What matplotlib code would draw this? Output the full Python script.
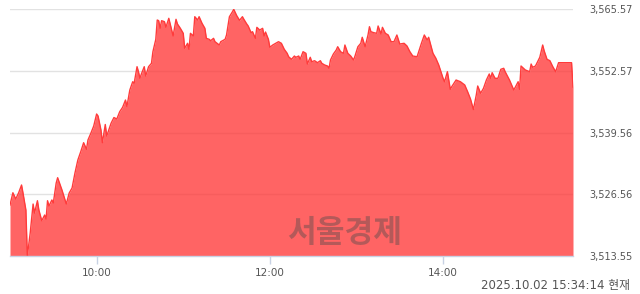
import matplotlib
matplotlib.use("Agg")
import matplotlib.pyplot as plt

# minutes after 09:00 and index level
minutes = [0, 2, 4, 6, 8, 9, 11, 12, 14, 16, 17, 19, 20, 22, 24, 25, 26, 27, 29, 30,
           32, 33, 35, 36, 39, 41, 43, 45, 47, 49, 51, 53, 54, 56, 58, 60, 61, 63, 64, 66,
           67, 70, 72, 74, 76, 78, 80, 81, 83, 85, 86, 88, 89, 90, 91, 93, 94, 96, 98, 99,
           101, 102, 103, 104, 105, 107, 108, 110, 112, 113, 115, 116, 118, 120, 121, 123, 124, 125, 127, 128,
           130, 131, 133, 135, 136, 138, 139, 141, 142, 145, 146, 149, 150, 152, 154, 155, 157, 159, 161, 162,
           164, 165, 167, 168, 170, 171, 173, 175, 176, 177, 179, 180, 182, 184, 186, 188, 190, 192, 193, 195,
           197, 198, 200, 201, 203, 205, 206, 208, 209, 211, 213, 215, 216, 218, 220, 221, 222, 224, 226, 227,
           229, 231, 232, 234, 236, 238, 239, 241, 243, 244, 246, 248, 249, 250, 252, 254, 255, 257, 258, 260,
           262, 264, 266, 268, 270, 273, 275, 277, 279, 282, 285, 287, 289, 290, 293, 295, 297, 300, 301, 303,
           305, 306, 309, 312, 315, 317, 319, 321, 323, 324, 326, 328, 330, 332, 333, 334, 336, 338, 340, 342,
           343, 346, 349, 352, 353, 354, 357, 360, 361, 362, 364, 367, 369, 370, 372, 374, 376, 378, 380, 389,
           390]
values = [3524.30, 3526.89, 3525.57, 3526.89, 3528.52, 3526.83, 3523.25, 3513.55, 3518.40, 3524.51,
          3522.61, 3525.21, 3523.25, 3520.99, 3522.19, 3521.35, 3525.21, 3524.09, 3525.36, 3524.72,
          3528.94, 3530.06, 3528.31, 3527.46, 3524.51, 3526.83, 3527.89, 3531.05, 3533.79, 3535.54,
          3537.44, 3536.05, 3538.01, 3539.42, 3540.96, 3543.49, 3543.07, 3540.12, 3537.44, 3541.28,
          3538.85, 3541.53, 3542.75, 3542.44, 3543.98, 3544.90, 3546.44, 3545.07, 3548.55, 3550.30,
          3549.96, 3553.47, 3552.41, 3551.02, 3551.93, 3553.47, 3551.50, 3553.47, 3554.18, 3556.63,
          3559.24, 3563.31, 3563.17, 3561.56, 3563.17, 3562.96, 3561.77, 3563.67, 3561.20, 3559.94,
          3563.46, 3562.47, 3561.56, 3560.51, 3557.35, 3558.40, 3557.13, 3560.51, 3559.94, 3564.01,
          3563.31, 3564.01, 3562.62, 3561.56, 3559.45, 3559.24, 3558.95, 3559.45, 3558.74, 3558.04,
          3558.74, 3559.24, 3560.15, 3564.01, 3565.00, 3565.57, 3564.26, 3563.25, 3564.01, 3563.46,
          3562.47, 3562.05, 3560.64, 3560.85, 3559.45, 3561.77, 3561.20, 3561.56, 3559.94, 3560.78,
          3559.24, 3557.56, 3558.04, 3558.40, 3558.74, 3558.40, 3557.13, 3556.29, 3555.57, 3555.03,
          3555.72, 3555.45, 3555.72, 3555.03, 3556.63, 3556.29, 3554.03, 3555.45, 3554.52, 3554.73,
          3554.31, 3554.73, 3554.18, 3553.82, 3553.61, 3553.13, 3554.88, 3556.14, 3556.99, 3557.68,
          3556.63, 3556.29, 3558.04, 3556.29, 3555.72, 3554.88, 3555.72, 3557.68, 3558.40, 3559.67,
          3557.68, 3560.15, 3561.90, 3560.85, 3560.64, 3560.51, 3562.05, 3560.36, 3561.77, 3560.51,
          3560.15, 3558.74, 3558.74, 3560.15, 3558.25, 3558.40, 3557.83, 3556.63, 3555.72, 3555.57,
          3558.40, 3560.15, 3559.10, 3559.67, 3556.29, 3555.24, 3553.82, 3551.02, 3550.30, 3552.41,
          3548.70, 3549.25, 3550.66, 3550.30, 3549.61, 3548.19, 3546.65, 3544.44, 3547.50, 3549.40,
          3547.86, 3548.91, 3550.66, 3551.93, 3551.02, 3552.20, 3551.02, 3551.02, 3552.92, 3553.13,
          3552.41, 3550.66, 3548.55, 3550.30, 3548.70, 3553.61, 3552.77, 3552.41, 3554.03, 3553.34,
          3553.61, 3555.45, 3558.04, 3556.84, 3555.03, 3554.73, 3553.47, 3552.41, 3554.31, 3554.31,
          3549.18]

y_ticks = [3513.55, 3526.56, 3539.56, 3552.57, 3565.57]
x_ticks = [60, 180, 300]
x_labels = ["10:00", "12:00", "14:00"]

plt.rcParams['font.family'] = ['DejaVu Sans', 'Noto Sans CJK KR']

fig = plt.figure(figsize=(6.4, 2.94), dpi=100)
ax = fig.add_axes([10 / 640, 38 / 294, 563 / 640, 246.7 / 294])

ax.set_xlim(0, 390)
ax.set_ylim(y_ticks[0], y_ticks[-1])

for v in y_ticks[1:]:
    ax.axhline(v, color='#e2e2e2', lw=1, zorder=0)

ax.fill_between(minutes, values, y_ticks[0], color='#ff3030', alpha=0.75, lw=0, zorder=1)
ax.plot(minutes, values, color='#ff3b3b', lw=1, zorder=2)

ax.set_yticks(y_ticks)
ax.set_yticklabels(["{:,.2f}".format(v) for v in y_ticks])
ax.yaxis.tick_right()
ax.tick_params(axis='y', length=0, pad=11.5, labelsize=7, labelcolor='#555555')

ax.set_xticks(x_ticks)
ax.set_xticklabels(x_labels)
ax.tick_params(axis='x', length=6, width=1, color='#c8d2e4', pad=3,
               labelsize=7.5, labelcolor='#555555')

for s in ['left', 'right', 'top']:
    ax.spines[s].set_visible(False)
ax.spines['bottom'].set_color('#c8d2e4')
ax.spines['bottom'].set_linewidth(1)

ax.text(0.595, 0.093, "서울경제", transform=ax.transAxes, ha='center', va='center',
        fontsize=22.5, fontweight='bold', family=['Noto Sans CJK KR'],
        color='#5a4d4d', alpha=0.45, zorder=3)

fig.text(630 / 640, 1 - 286 / 294, "2025.10.02 15:34:14 현재", ha='right', va='center',
         fontsize=8.5, color='#555555')

fig.savefig("out.png", dpi=100)
